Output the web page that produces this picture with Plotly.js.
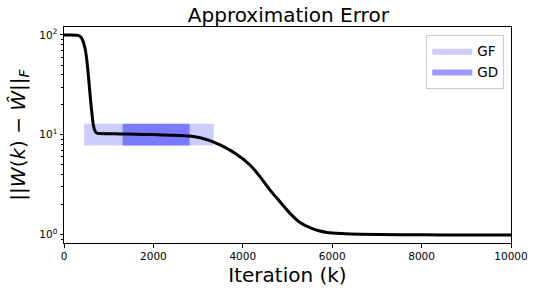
<!DOCTYPE html>
<html>
<head>
<meta charset="utf-8">
<script src="https://cdn.plot.ly/plotly-3.0.1.min.js"></script>
<style>html,body{margin:0;padding:0;background:#fff;}#chart{width:533px;height:292px;}</style>
</head>
<body>
<div id="chart"></div>
<script>
// Error curve (iteration, error)
const iterations = [0, 150, 284, 350, 396, 470, 510, 544, 597, 656, 690, 731, 800, 1000, 1253, 1600, 2000, 2400, 2800, 3043, 3250, 3490, 3826, 4161, 4385, 4609, 4832, 5056, 5280, 5503, 5700, 5884, 6200, 6622, 7500, 8500, 10000];
const errors     = [100, 100, 99.5, 97.7, 92.7, 73.6, 56.2, 39.8, 21.5, 12.6, 11.0, 10.4, 10.28, 10.25, 10.2, 10.12, 10.03, 9.9, 9.7, 9.35, 8.8, 7.9, 6.52, 4.98, 3.80, 2.79, 2.13, 1.63, 1.32, 1.17, 1.09, 1.05, 1.023, 1.005, 0.995, 0.99, 0.99];
// Highlighted ranges
const gfRange = [450, 3350];
const gdRange = [1310, 2810];
const bandY = [7.8, 12.9];

const rect = (xr, yr) => ({
  x: [xr[0], xr[1], xr[1], xr[0], xr[0]],
  y: [yr[0], yr[0], yr[1], yr[1], yr[0]]
});
const gfR = rect(gfRange, bandY);
const gdR = rect(gdRange, bandY);

const traces = [
  {x: gfR.x, y: gfR.y, type: 'scatter', mode: 'lines', fill: 'toself',
   fillcolor: 'rgba(0,0,255,0.2)', line: {width: 0, color: 'rgba(0,0,255,0)'}, name: 'GF', hoverinfo: 'skip'},
  {x: gdR.x, y: gdR.y, type: 'scatter', mode: 'lines', fill: 'toself',
   fillcolor: 'rgba(0,0,255,0.4)', line: {width: 0, color: 'rgba(0,0,255,0)'}, name: 'GD', hoverinfo: 'skip'},
  {x: iterations, y: errors, type: 'scatter', mode: 'lines',
   line: {color: '#000', width: 3, shape: 'spline', smoothing: 0.6}, showlegend: false}
];

const layout = {
  width: 533, height: 292,
  margin: {l: 64, r: 22, t: 27, b: 49},
  paper_bgcolor: '#fff', plot_bgcolor: '#fff',
  font: {family: 'DejaVu Sans', color: '#000'},
  title: {text: 'Approximation Error', font: {size: 20, family: 'DejaVu Sans'}, x: 0.541, xanchor: 'center', y: 0.948, yanchor: 'middle'},
  xaxis: {
    range: [0, 10000], tickvals: [0, 2000, 4000, 6000, 8000, 10000],
    ticktext: ['0', '2000', '4000', '6000', '8000', '10000'],
    ticks: 'outside', ticklen: 3.5, tickcolor: '#000', tickfont: {size: 10.5},
    showgrid: false, zeroline: false, showline: true, linecolor: '#000', linewidth: 1, mirror: true,
    title: {text: 'Iteration (k)', font: {size: 20}, standoff: 6}
  },
  yaxis: {
    type: 'log', range: [-0.085, 2.08],
    tickvals: [1, 10, 100], ticktext: ['10<sup>0</sup>', '10<sup>1</sup>', '10<sup>2</sup>'],
    ticks: 'outside', ticklen: 3.5, tickcolor: '#000', tickfont: {size: 10.5},
    minor: {tickvals: [0.9, 2,3,4,5,6,7,8,9, 20,30,40,50,60,70,80,90], ticks: 'outside', ticklen: 2, tickcolor: '#000'},
    showgrid: false, zeroline: false, showline: true, linecolor: '#000', linewidth: 1, mirror: true,
    title: {text: '||<i>W</i>(<i>k</i>) − <i>W&#770;</i>||<sub><i>F</i></sub>', font: {size: 20}, standoff: 8}
  },
  legend: {
    x: 0.985, xanchor: 'right', y: 0.965, yanchor: 'top',
    bgcolor: 'rgba(255,255,255,0.8)', bordercolor: '#ccc', borderwidth: 1,
    font: {size: 13.5}, itemwidth: 40
  },
  showlegend: true
};

Plotly.newPlot('chart', traces, layout, {displayModeBar: false, staticPlot: true});
</script>
</body>
</html>
